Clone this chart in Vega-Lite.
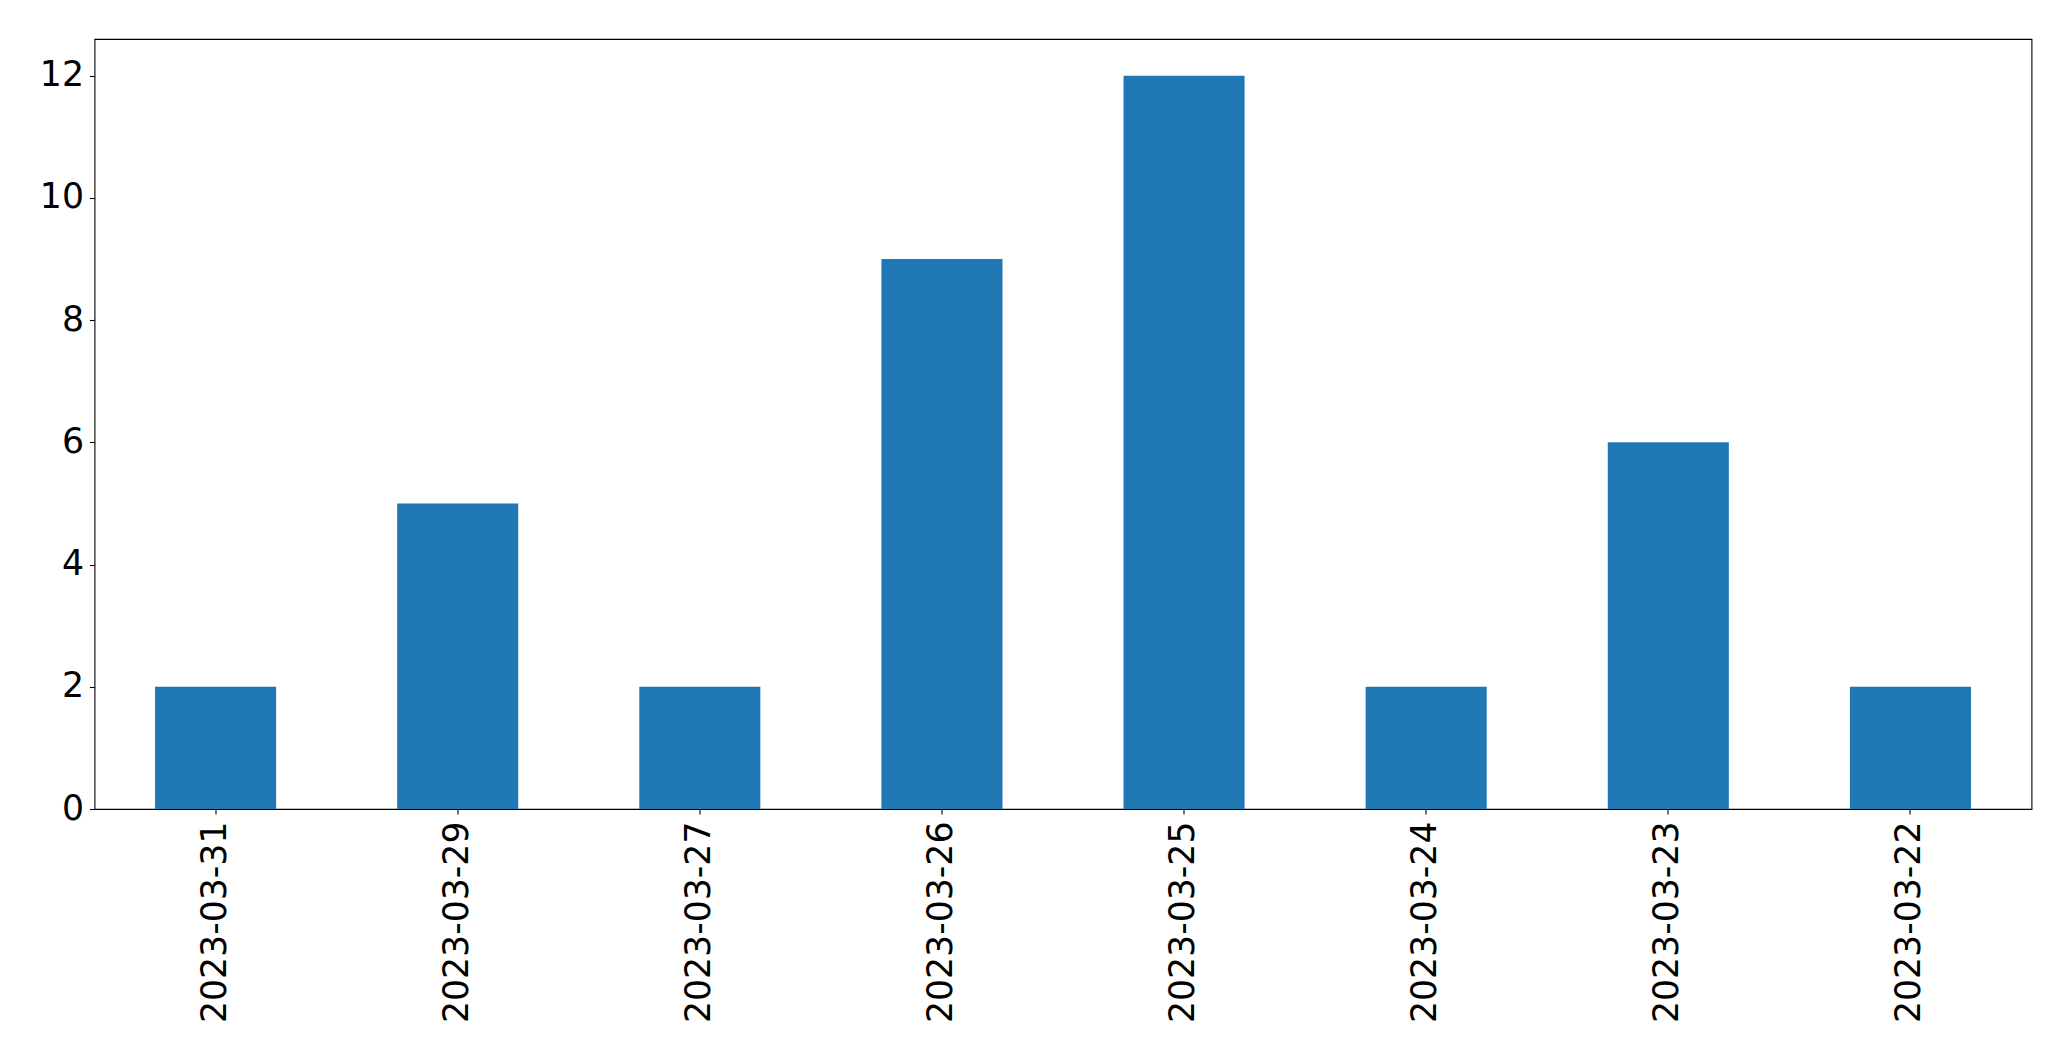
{
  "$schema": "https://vega.github.io/schema/vega-lite/v6.json",
  "autosize": {"type": "none"},
  "padding": {"left": 94.5, "top": 39, "right": 39, "bottom": 252},
  "width": 1937,
  "height": 770,
  "background": "white",
  "config": {
    "view": {"stroke": "black", "strokeWidth": 1.1},
    "font": "DejaVu Sans",
    "axis": {
      "domain": false,
      "grid": false,
      "ticks": true,
      "tickColor": "black",
      "tickSize": 5,
      "tickWidth": 1.1,
      "labelFont": "DejaVu Sans",
      "labelFontSize": 34.7,
      "labelColor": "black",
      "labelLimit": 0,
      "title": null
    }
  },
  "data": {
    "values": [
      {"date": "2023-03-31", "count": 2},
      {"date": "2023-03-29", "count": 5},
      {"date": "2023-03-27", "count": 2},
      {"date": "2023-03-26", "count": 9},
      {"date": "2023-03-25", "count": 12},
      {"date": "2023-03-24", "count": 2},
      {"date": "2023-03-23", "count": 6},
      {"date": "2023-03-22", "count": 2}
    ]
  },
  "mark": {"type": "bar", "color": "#1f77b4"},
  "encoding": {
    "x": {
      "field": "date",
      "type": "nominal",
      "sort": null,
      "scale": {"paddingInner": 0.5, "paddingOuter": 0.25},
      "axis": {"labelAngle": 270, "labelAlign": "right", "labelBaseline": "middle", "labelPadding": 7}
    },
    "y": {
      "field": "count",
      "type": "quantitative",
      "scale": {"domain": [0, 12.6], "nice": false},
      "axis": {"values": [0, 2, 4, 6, 8, 10, 12], "labelPadding": 6}
    }
  }
}
